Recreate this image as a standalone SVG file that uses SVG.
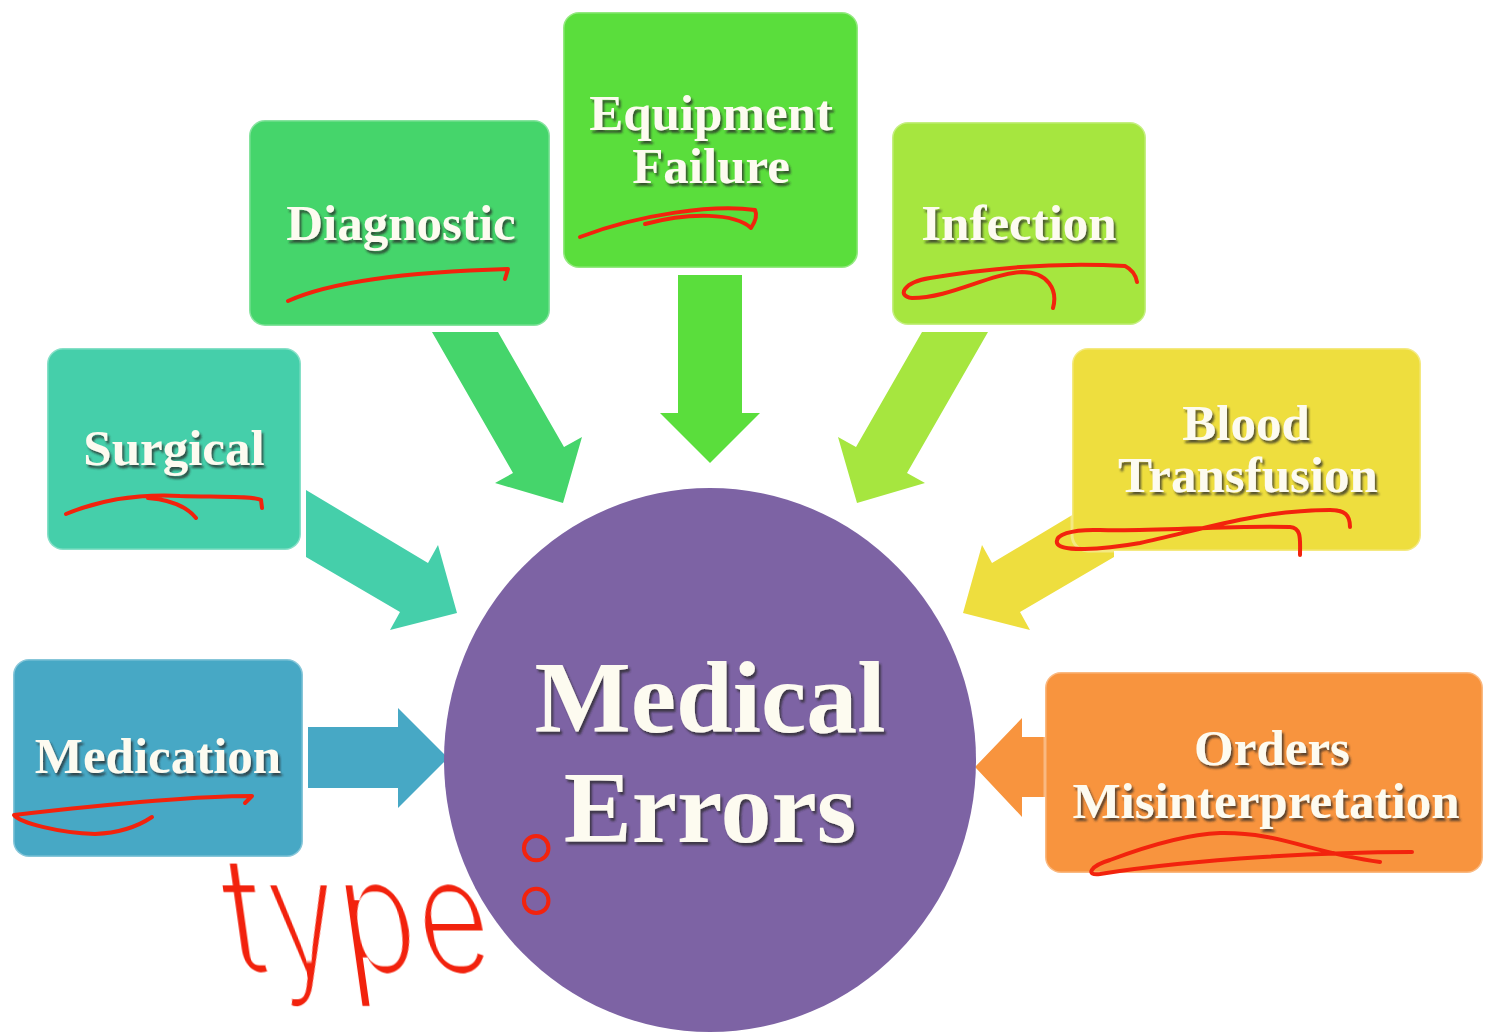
<svg xmlns="http://www.w3.org/2000/svg" width="1485" height="1033" viewBox="0 0 1485 1033">
  <defs>
    <filter id="shadow" x="-10%" y="-10%" width="120%" height="130%">
      <feDropShadow dx="2" dy="3" stdDeviation="1.2" flood-color="#2a2a2a" flood-opacity="0.75"/>
    </filter>
    <filter id="thin" x="-5%" y="-5%" width="110%" height="110%">
      <feMorphology operator="erode" radius="2.6"/>
    </filter>
    <style>
      .box { stroke: #ffffff; stroke-opacity: 0.35; stroke-width: 3; }
      .lbl { font-family: "Liberation Serif", "Times New Roman", serif; font-weight: bold; font-size: 51px; fill: #fdfbf0; text-anchor: middle; filter: url(#shadow); }
      .big { font-size: 102px; }
      .ink { fill: none; stroke: #f2230d; stroke-width: 4; stroke-linecap: round; stroke-linejoin: round; }
      .hand { font-family: Inter, "DejaVu Sans", sans-serif; font-weight: normal; fill: #f2230d; filter: url(#thin); }
      .colon { font-family: Inter, "DejaVu Sans", sans-serif; font-weight: bold; fill: none; stroke: #f2230d; stroke-width: 4; }
    </style>
  </defs>
  <rect width="1485" height="1033" fill="#ffffff"/>

  <g id="connectors">
    <polygon fill="#5ade3c" points="678,275 742,275 742,413 760,413 710,463 660,413 678,413"/>
    <polygon fill="#45d56b" points="432,332 498,332 564,447 582,437 563,503 495,483 513,473"/>
    <polygon fill="#a6e63f" points="988,332 922,332 856,447 838,437 857,503 925,483 907,473"/>
    <polygon fill="#45cfaa" points="306,490 428,563 438,545 457,613 390,630 400,612 306,557"/>
    <polygon fill="#eede3e" points="1114,490 992,563 982,545 963,613 1030,630 1020,612 1114,557"/>
    <polygon fill="#47a8c5" points="308,727 398,727 398,708 448,758 398,808 398,788 308,788"/>
    <polygon fill="#f8943e" points="1046,737 1022,737 1022,718 975,767 1022,817 1022,797 1046,797"/>
  </g>

  <g id="node-center">
    <ellipse cx="710" cy="760" rx="266" ry="272" fill="#7d63a4"/>
    <text class="lbl big" x="710" y="732">Medical</text>
    <text class="lbl big" x="710" y="842">Errors</text>
  </g>

  <g id="node-equipment">
    <rect class="box" x="563" y="12" width="295" height="256" rx="16" fill="#5ade3c"/>
    <text class="lbl" x="711" y="130">Equipment</text>
    <text class="lbl" x="711" y="183">Failure</text>
  </g>

  <g id="node-diagnostic">
    <rect class="box" x="249" y="120" width="301" height="206" rx="16" fill="#45d56b"/>
    <text class="lbl" x="401" y="240">Diagnostic</text>
  </g>

  <g id="node-infection">
    <rect class="box" x="892" y="122" width="254" height="203" rx="16" fill="#a6e63f"/>
    <text class="lbl" x="1019" y="240">Infection</text>
  </g>

  <g id="node-surgical">
    <rect class="box" x="47" y="348" width="254" height="202" rx="16" fill="#45cfaa"/>
    <text class="lbl" x="174" y="465">Surgical</text>
  </g>

  <g id="node-blood">
    <rect class="box" x="1072" y="348" width="349" height="203" rx="16" fill="#eede3e"/>
    <text class="lbl" x="1246" y="440">Blood</text>
    <text class="lbl" x="1248" y="492">Transfusion</text>
  </g>

  <g id="node-medication">
    <rect class="box" x="13" y="659" width="290" height="198" rx="16" fill="#47a8c5"/>
    <text class="lbl" x="158" y="773">Medication</text>
  </g>

  <g id="node-orders">
    <rect class="box" x="1045" y="672" width="438" height="201" rx="16" fill="#f8943e"/>
    <text class="lbl" x="1272" y="765">Orders</text>
    <text class="lbl" x="1266" y="818">Misinterpretation</text>
  </g>

  <g id="annotations">
    <path class="ink" d="M288,301 C330,282 400,272 508,269 L505,279"/>
    <path class="ink" d="M580,237 C640,214 715,204 755,210 C758,216 755,222 751,228 C735,213 690,212 645,224"/>
    <path class="ink" d="M1053,308 C1058,290 1048,272 1022,272 C988,274 950,298 912,298 C896,296 904,282 930,278 C990,268 1060,262 1125,266 C1133,270 1136,276 1137,282"/>
    <path class="ink" d="M66,514 C100,500 140,494 180,496 C220,497 255,496 261,500 L262,508 M148,498 C172,500 188,508 196,518"/>
    <path class="ink" d="M1300,555 C1300,540 1302,528 1290,527 C1230,525 1150,532 1100,530 C1070,529 1055,535 1057,543 C1060,552 1100,550 1140,543 C1200,530 1260,510 1330,510 C1345,510 1350,515 1350,527"/>
    <path class="ink" d="M245,803 L252,796 C200,796 100,805 14,815 C20,823 60,833 95,834 C120,833 140,825 152,817"/>
    <path class="ink" d="M1412,852 C1330,852 1200,858 1100,874 C1085,876 1090,866 1110,860 C1150,845 1190,834 1220,833 C1280,832 1310,853 1380,862"/>
    <text class="hand" x="232" y="975" font-size="140" transform="translate(232,975) skewX(8) scale(0.9,1.2) translate(-232,-975)">type</text>
    <text class="colon" x="512" y="912" font-size="145">:</text>
  </g>
</svg>
